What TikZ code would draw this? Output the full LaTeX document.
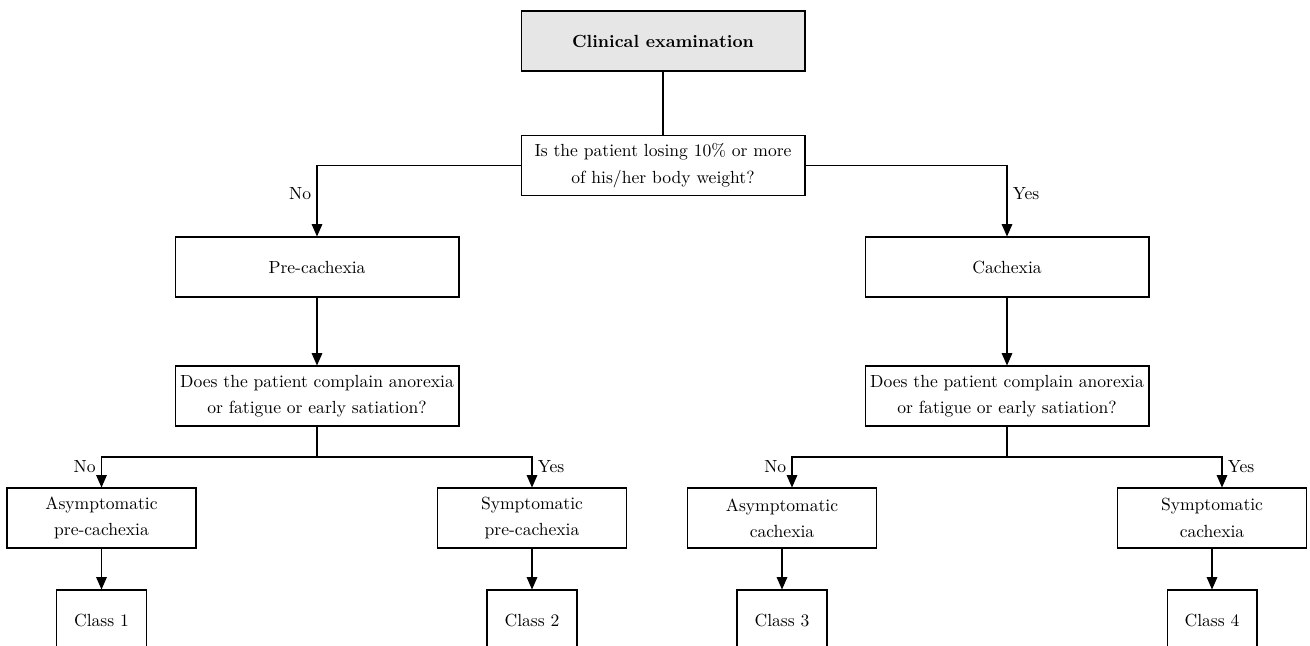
\documentclass[tikz,border=0pt]{standalone}
\usepackage{xcolor}
\definecolor{boxgray}{HTML}{E6E6E6}
\usepackage{tikz}
\usetikzlibrary{arrows.meta, positioning}

\tikzset{
  txt/.style={font=\fontsize{10}{15}\selectfont},
  bigbox/.style={txt, draw, line width=0.6pt, align=center, minimum width=5.68cm, minimum height=1.2cm, inner sep=1pt},
  midbox/.style={txt, draw, line width=0.6pt, align=center, minimum width=3.78cm, minimum height=1.2cm, inner sep=1pt},
  classbox/.style={txt, draw, line width=0.6pt, minimum width=1.8cm, minimum height=1.2cm, inner sep=1pt},
  link/.style={line width=0.6pt},
  arr/.style={line width=0.6pt, -{Triangle[length=7pt, width=6pt]}},
  lab/.style={txt, inner sep=3pt}
}

\begin{document}
\begin{tikzpicture}[x=0.02cm, y=-0.02cm]
  \useasboundingbox (0,0) rectangle (1310,645);

  % Top
  \node[bigbox, fill=boxgray, font=\fontsize{10}{15}\selectfont\bfseries] (exam) at (663,41) {Clinical examination};
  \node[bigbox] (weight) at (663,165.5) {Is the patient losing 10\% or more\\of his/her body weight?};
  \draw[link] (exam) -- (weight);

  % Second level
  \node[bigbox] (pre) at (317,267) {Pre-cachexia};
  \node[bigbox] (cach) at (1007,267) {Cachexia};
  \draw[arr] (weight.west) -| node[lab, pos=0.7, left] {No} (pre.north);
  \draw[arr] (weight.east) -| node[lab, pos=0.7, right] {Yes} (cach.north);

  % Questions
  \node[bigbox] (askpre) at (317,396) {Does the patient complain anorexia\\or fatigue or early satiation?};
  \node[bigbox] (askcach) at (1007,396) {Does the patient complain anorexia\\or fatigue or early satiation?};
  \draw[arr] (pre) -- (askpre);
  \draw[arr] (cach) -- (askcach);

  % Pre-cachexia branch
  \node[midbox] (asypre) at (101.5,518) {Asymptomatic\\pre-cachexia};
  \node[midbox] (sympre) at (532,518) {Symptomatic\\pre-cachexia};
  \coordinate (splitpre) at (317,457);
  \draw[link] (askpre) -- (splitpre);
  \draw[arr] (splitpre) -| node[lab, pos=0.65, left] {No} (asypre.north);
  \draw[arr] (splitpre) -| node[lab, pos=0.65, right] {Yes} (sympre.north);

  % Cachexia branch
  \node[midbox] (asycach) at (782,518) {Asymptomatic\\cachexia};
  \node[midbox] (symcach) at (1212,518) {Symptomatic\\cachexia};
  \coordinate (splitcach) at (1007,457);
  \draw[link] (askcach) -- (splitcach);
  \draw[arr] (splitcach) -| node[lab, pos=0.65, left] {No} ([xshift=0.2cm]asycach.north);
  \draw[arr] (splitcach) -| node[lab, pos=0.65, right] {Yes} ([xshift=0.2cm]symcach.north);

  % Classes
  \node[classbox] (class1) at (101.5,620) {Class 1};
  \node[classbox] (class2) at (532,620) {Class 2};
  \node[classbox] (class3) at (782,620) {Class 3};
  \node[classbox] (class4) at (1212,620) {Class 4};
  \draw[arr] (asypre) -- (class1);
  \draw[arr] (sympre) -- (class2);
  \draw[arr] (asycach) -- (class3);
  \draw[arr] (symcach) -- (class4);
\end{tikzpicture}
\end{document}
